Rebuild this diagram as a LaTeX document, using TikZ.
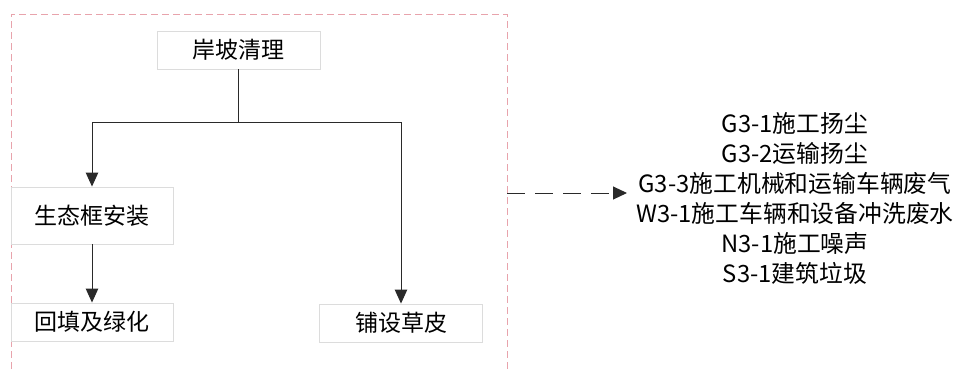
\documentclass[tikz,border=0pt]{standalone}
\usepackage{fontspec}
\setmainfont{Noto Sans CJK SC}
\usetikzlibrary{arrows.meta}
\definecolor{pinkline}{HTML}{E8A3AC}
\definecolor{boxline}{HTML}{DCDCDC}
\definecolor{conn}{HTML}{2A2A2A}
\begin{document}
\begin{tikzpicture}[x=1pt,y=1pt,
  stepbox/.style={draw=boxline,line width=0.9pt,fill=white,inner sep=0pt,
    font=\fontsize{23}{27}\selectfont,text=black},
  arr/.style={draw=conn,line width=1pt,-{Triangle[length=14pt,width=12.5pt]}},
  plain/.style={draw=conn,line width=1pt}]
\useasboundingbox (0,0) rectangle (959,-372);
% dashed pink frame
\draw[pinkline,line width=1pt,dash pattern=on 7pt off 4pt] (11,-380) -- (11,-14) -- (507,-14) -- (507,-380);
% boxes
\node[stepbox,minimum width=163pt,minimum height=38pt] (top) at (238.5,-50) {岸坡清理};
\node[stepbox,minimum width=162pt,minimum height=57pt] (stk) at (92,-215.5) {生态框安装};
\node[stepbox,minimum width=162pt,minimum height=38pt] (htl) at (92,-322) {回填及绿化};
\node[stepbox,minimum width=163pt,minimum height=38pt] (pcp) at (401,-323) {铺设草皮};
% connectors
\coordinate (split) at (238.5,-122);
\draw[plain] (top.south) -- (split);
\draw[arr] (split) -| (stk.north);
\draw[arr] (split) -| (pcp.north);
\draw[arr] (stk.south) -- (htl.north);
% output list
\node[inner sep=0pt,align=center,font=\fontsize{23.8}{30}\selectfont] (out) at (795,-198)
  {G3-1施工扬尘\\G3-2运输扬尘\\G3-3施工机械和运输车辆废气\\W3-1施工车辆和设备冲洗废水\\N3-1施工噪声\\S3-1建筑垃圾};
\coordinate (dstart) at (507,-193);
\coordinate (dend) at (627,-193);
\draw[draw=conn,line width=1pt,dash pattern=on 18pt off 10pt,-{Triangle[length=14pt,width=13pt]}] (dstart) -- (dend);
\end{tikzpicture}
\end{document}
